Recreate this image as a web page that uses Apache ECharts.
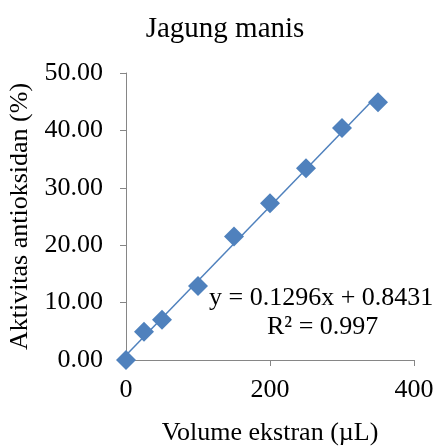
<!DOCTYPE html>
<html>
<head>
<meta charset="utf-8">
<script src="https://cdn.jsdelivr.net/npm/echarts@6/dist/echarts.min.js"></script>
<style>
  html, body { margin: 0; padding: 0; background: #fff; }
  #chart { width: 442px; height: 446px; }
</style>
</head>
<body>
<div id="chart"></div>
<script>
// Extract volume (µL) and antioxidant activity (%)
const volume = [0, 25, 50, 100, 150, 200, 250, 300, 350];
const activity = [0, 4.9, 7.0, 12.9, 21.5, 27.3, 33.4, 40.4, 44.9];

// Linear fit reported on the chart
const slope = 0.1296;
const intercept = 0.8431;
const rSquared = 0.997;
const fitRange = [0, 350];

const xTicks = [0, 200, 400];
const yTicks = [0, 10, 20, 30, 40, 50];

const serif = '"Liberation Serif", "Times New Roman", serif';
const blue = '#4F81BD';
const axisGray = '#868686';

const points = volume.map((v, i) => [v, activity[i]]);
const fitLine = fitRange.map(v => [v, slope * v + intercept]);

const chart = echarts.init(document.getElementById('chart'));
chart.setOption({
  backgroundColor: '#fff',
  animation: false,
  title: {
    text: 'Jagung manis',
    left: 220,
    textAlign: 'center',
    top: 10,
    textStyle: { fontFamily: serif, fontSize: 29, fontWeight: 'normal', color: '#000' }
  },
  grid: {
    left: 126, right: 28, top: 73, bottom: 86,
    containLabel: false,
    outerBoundsMode: 'none'
  },
  xAxis: {
    type: 'value',
    min: xTicks[0],
    max: xTicks[xTicks.length - 1],
    interval: 200,
    name: 'Volume ekstran (µL)',
    nameLocation: 'middle',
    nameGap: 60,
    nameTextStyle: { fontFamily: serif, fontSize: 26, color: '#000' },
    axisLine: { show: true, lineStyle: { color: axisGray, width: 1 } },
    axisTick: { show: true, length: 6, lineStyle: { color: axisGray } },
    axisLabel: { fontFamily: serif, fontSize: 26, color: '#000', margin: 17 },
    splitLine: { show: false }
  },
  yAxis: {
    type: 'value',
    min: yTicks[0],
    max: yTicks[yTicks.length - 1],
    interval: 10,
    name: 'Aktivitas antioksidan (%)',
    nameLocation: 'middle',
    nameGap: 91,
    nameRotate: 90,
    nameTextStyle: { fontFamily: serif, fontSize: 26, color: '#000' },
    axisLine: { show: true, lineStyle: { color: axisGray, width: 1 } },
    axisTick: { show: true, length: 6, lineStyle: { color: axisGray } },
    axisLabel: {
      fontFamily: serif, fontSize: 26, color: '#000', margin: 23,
      formatter: v => v.toFixed(2)
    },
    splitLine: { show: false }
  },
  series: [
    {
      type: 'line',
      data: fitLine,
      symbol: 'none',
      lineStyle: { color: blue, width: 1.5 },
      z: 2
    },
    {
      type: 'scatter',
      data: points,
      symbol: 'diamond',
      symbolSize: 20,
      itemStyle: { color: blue, opacity: 1 },
      z: 3
    }
  ],
  graphic: [
    {
      type: 'text',
      left: 209,
      top: 285,
      style: {
        text: 'y = ' + slope + 'x + ' + intercept,
        font: '26px ' + serif,
        fill: '#000'
      }
    },
    {
      type: 'text',
      left: 267,
      top: 314,
      style: {
        text: 'R² = ' + rSquared,
        font: '26px ' + serif,
        fill: '#000'
      }
    }
  ]
});
</script>
</body>
</html>
